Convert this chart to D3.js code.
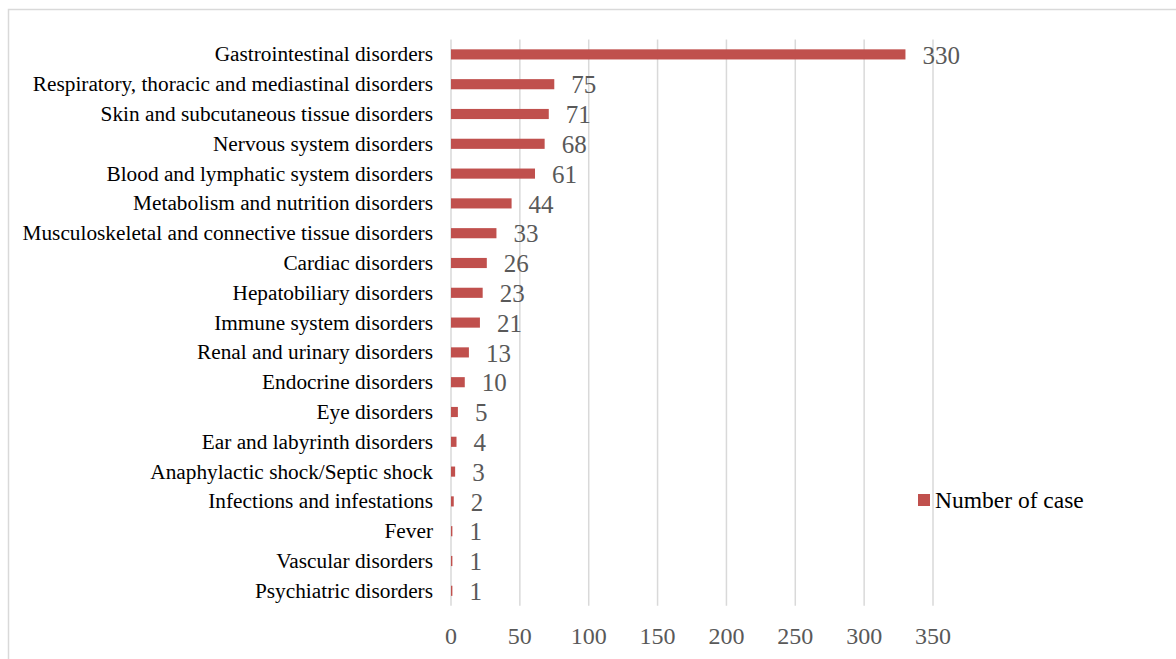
<!DOCTYPE html>
<html>
<head>
<meta charset="utf-8">
<script src="https://cdn.jsdelivr.net/npm/d3@7"></script>
<style>
  body { margin: 0; background: #fff; }
</style>
</head>
<body>
<div id="chart"></div>
<script>
// categories, top to bottom as drawn
const categories = [
    "Gastrointestinal disorders",
    "Respiratory, thoracic and mediastinal disorders",
    "Skin and subcutaneous tissue disorders",
    "Nervous system disorders",
    "Blood and lymphatic system disorders",
    "Metabolism and nutrition disorders",
    "Musculoskeletal and connective tissue disorders",
    "Cardiac disorders",
    "Hepatobiliary disorders",
    "Immune system disorders",
    "Renal and urinary disorders",
    "Endocrine disorders",
    "Eye disorders",
    "Ear and labyrinth disorders",
    "Anaphylactic shock/Septic shock",
    "Infections and infestations",
    "Fever",
    "Vascular disorders",
    "Psychiatric disorders"
];
const cases = [330, 75, 71, 68, 61, 44, 33, 26, 23, 21, 13, 10, 5, 4, 3, 2, 1, 1, 1];
const xTicks = [0, 50, 100, 150, 200, 250, 300, 350];
const seriesName = "Number of case";

const width = 1176;
const height = 659;
const barColor = "#c0504d";
const gridColor = "#d9d9d9";
const serif = "\"Liberation Serif\", \"Times New Roman\", Times, \"DejaVu Serif\", serif";

const svg = d3.select("#chart")
    .append("svg")
    .attr("width", width)
    .attr("height", height);

// outer chart frame (right/bottom edges run off the picture)
svg.append("rect")
    .attr("x", 8.5)
    .attr("y", 9.5)
    .attr("width", 1200)
    .attr("height", 700)
    .attr("fill", "none")
    .attr("stroke", gridColor)
    .attr("stroke-width", 1.5);

const x = d3.scaleLinear().domain([0, 350]).range([451, 933]);
const y = d3.scaleBand().domain(categories).range([39.5, 605.7]).paddingInner(0.66).paddingOuter(0.33);

// vertical gridlines
svg.append("g")
    .selectAll("line")
    .data(xTicks)
    .enter()
    .append("line")
    .attr("x1", d => x(d))
    .attr("x2", d => x(d))
    .attr("y1", 39.5)
    .attr("y2", 605.7)
    .attr("stroke", gridColor)
    .attr("stroke-width", 1.5);

// x tick labels
svg.append("g")
    .selectAll("text")
    .data(xTicks)
    .enter()
    .append("text")
    .attr("x", d => x(d))
    .attr("y", 644)
    .attr("text-anchor", "middle")
    .attr("font-family", serif)
    .attr("font-size", 24)
    .attr("fill", "#595959")
    .text(d => d);

// bars
svg.append("g")
    .selectAll("rect")
    .data(cases)
    .enter()
    .append("rect")
    .attr("x", x(0))
    .attr("y", (d, i) => y(categories[i]))
    .attr("width", d => x(d) - x(0))
    .attr("height", y.bandwidth())
    .attr("fill", barColor);

// category labels
svg.append("g")
    .selectAll("text")
    .data(categories)
    .enter()
    .append("text")
    .attr("x", 433)
    .attr("y", d => y(d) + y.bandwidth() / 2)
    .attr("dy", "0.33em")
    .attr("text-anchor", "end")
    .attr("font-family", serif)
    .attr("font-size", 21.3)
    .attr("fill", "#000")
    .text(d => d);

// value labels
svg.append("g")
    .selectAll("text")
    .data(cases)
    .enter()
    .append("text")
    .attr("x", d => x(d) + 17)
    .attr("y", (d, i) => y(categories[i]) + y.bandwidth() / 2)
    .attr("dy", "0.37em")
    .attr("font-family", serif)
    .attr("font-size", 25)
    .attr("fill", "#595959")
    .text(d => d);

// legend
const legend = svg.append("g").attr("transform", "translate(918,494)");
legend.append("rect")
    .attr("width", 12)
    .attr("height", 12)
    .attr("fill", barColor);
legend.append("text")
    .attr("x", 17)
    .attr("y", 6)
    .attr("dy", "0.35em")
    .attr("font-family", serif)
    .attr("font-size", 23.5)
    .attr("fill", "#000")
    .text(seriesName);
</script>
</body>
</html>
